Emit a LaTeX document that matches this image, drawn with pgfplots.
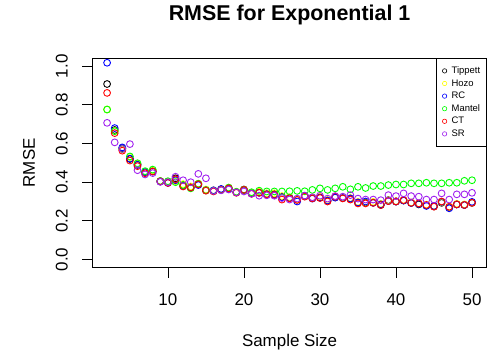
\documentclass[border=0pt]{standalone}
\usepackage{fontspec}
\setmainfont{Liberation Sans}
\usepackage{pgfplots}
\pgfplotsset{compat=1.18}
\usepackage{pgfplotstable}
\definecolor{rpurple}{HTML}{A020F0}
\definecolor{ryellow}{HTML}{FFFF00}
\definecolor{rgreen}{HTML}{00FF00}

\pgfplotstableread{
n Tippett Hozo RC Mantel CT SR
2 0.908 0.776 1.018 0.776 0.862 0.707
3 0.670 0.665 0.680 0.664 0.654 0.606
4 0.575 0.570 0.580 0.572 0.563 0.572
5 0.520 0.530 0.522 0.533 0.512 0.597
6 0.490 0.495 0.490 0.498 0.483 0.462
7 0.450 0.450 0.452 0.457 0.446 0.440
8 0.457 0.460 0.455 0.465 0.455 0.447
9 0.405 0.405 0.403 0.406 0.404 0.402
10 0.400 0.402 0.396 0.405 0.396 0.400
11 0.420 0.405 0.410 0.400 0.415 0.428
12 0.385 0.390 0.380 0.385 0.378 0.410
13 0.375 0.378 0.372 0.368 0.372 0.400
14 0.390 0.392 0.385 0.392 0.389 0.443
15 0.360 0.362 0.358 0.358 0.356 0.420
16 0.355 0.358 0.358 0.355 0.352 0.355
17 0.362 0.362 0.365 0.360 0.360 0.358
18 0.368 0.370 0.365 0.372 0.368 0.362
19 0.348 0.350 0.348 0.350 0.345 0.347
20 0.362 0.360 0.358 0.360 0.360 0.352
21 0.342 0.345 0.342 0.348 0.340 0.340
22 0.348 0.350 0.345 0.356 0.345 0.330
23 0.340 0.342 0.338 0.352 0.336 0.332
24 0.340 0.342 0.336 0.352 0.334 0.330
25 0.325 0.328 0.322 0.352 0.310 0.318
26 0.320 0.322 0.318 0.353 0.316 0.310
27 0.310 0.312 0.300 0.355 0.308 0.315
28 0.328 0.330 0.330 0.353 0.325 0.330
29 0.318 0.320 0.315 0.360 0.316 0.322
30 0.322 0.325 0.320 0.368 0.318 0.330
31 0.305 0.308 0.305 0.360 0.300 0.315
32 0.322 0.325 0.320 0.368 0.325 0.328
33 0.318 0.320 0.318 0.376 0.316 0.325
34 0.315 0.318 0.316 0.363 0.310 0.333
35 0.295 0.298 0.295 0.376 0.290 0.315
36 0.295 0.298 0.300 0.370 0.290 0.310
37 0.295 0.298 0.293 0.380 0.293 0.310
38 0.282 0.288 0.285 0.380 0.282 0.307
39 0.307 0.305 0.302 0.385 0.302 0.333
40 0.300 0.302 0.300 0.388 0.300 0.328
41 0.305 0.308 0.305 0.388 0.307 0.342
42 0.293 0.295 0.292 0.394 0.293 0.328
43 0.285 0.290 0.288 0.394 0.290 0.325
44 0.280 0.283 0.277 0.397 0.282 0.310
45 0.275 0.278 0.277 0.394 0.273 0.310
46 0.293 0.296 0.298 0.394 0.300 0.342
47 0.270 0.272 0.265 0.397 0.273 0.310
48 0.285 0.288 0.285 0.397 0.285 0.337
49 0.282 0.285 0.282 0.407 0.282 0.337
50 0.293 0.295 0.298 0.410 0.293 0.345
}\rmse

\begin{document}
\begin{tikzpicture}
\begin{axis}[
  at={(92.5bp,88.8bp)}, anchor=south west,
  scale only axis, width=394.1bp, height=208.7bp,
  xmin=0.08, xmax=51.92, ymin=-0.04, ymax=1.04,
  xtick={10,20,30,40,50},
  ytick={0,0.2,0.4,0.6,0.8,1.0},
  yticklabels={0.0,0.2,0.4,0.6,0.8,1.0},
  xtick pos=bottom, ytick pos=left,
  tick align=outside, major tick length=10.5bp,
  tick style={black, line width=0.8bp},
  axis line style={line width=0.8bp},
  /pgf/number format/assume math mode=true,
  ticklabel style={font=\fontsize{17}{17}\selectfont},
  xticklabel style={anchor=north, inner sep=0pt, yshift=-15.5bp},
  yticklabel style={xshift=-14bp, rotate=90, anchor=south, inner sep=0pt},
  xlabel={Sample Size},
  ylabel={RMSE},
  xlabel style={font=\fontsize{17}{17}\selectfont, at={([yshift=-74.5bp]axis description cs:0.5,0)}, anchor=center},
  ylabel style={font=\fontsize{17}{17}\selectfont, at={([xshift=-63.5bp]axis description cs:0,0.5)}, anchor=center},
  title={\bfseries RMSE for Exponential 1},
  title style={font=\fontsize{21.5}{21.5}\selectfont, at={([yshift=37.5bp]axis description cs:0.5,1)}, anchor=center},
  every axis plot/.append style={only marks, mark=o, mark size=3.4bp, line width=0.9bp},
  legend style={at={(rel axis cs:1,1)}, anchor=north east, draw=black, line width=0.8bp,
    font=\fontsize{9.5}{9.5}\selectfont, inner xsep=5bp, inner ysep=6.5bp, row sep=1.6bp,
    nodes={inner sep=1bp, text height=7bp, text depth=2bp}},
  legend cell align=left,
  legend image code/.code={\path[draw=none] (0bp,0bp) (9bp,0bp); \draw[#1, mark size=2.2bp, line width=0.6bp] plot coordinates {(3bp,0bp)};},
]
\addplot[color=black] table[x=n, y=Tippett] {\rmse};
\addlegendentry{Tippett}
\addplot[color=ryellow] table[x=n, y=Hozo] {\rmse};
\addlegendentry{Hozo}
\addplot[color=blue] table[x=n, y=RC] {\rmse};
\addlegendentry{RC}
\addplot[color=rgreen] table[x=n, y=Mantel] {\rmse};
\addlegendentry{Mantel}
\addplot[color=red] table[x=n, y=CT] {\rmse};
\addlegendentry{CT}
\addplot[color=rpurple] table[x=n, y=SR] {\rmse};
\addlegendentry{SR}
\end{axis}
\pgfresetboundingbox
\path (0,0) rectangle (487bp,356bp);
\end{tikzpicture}
\end{document}
